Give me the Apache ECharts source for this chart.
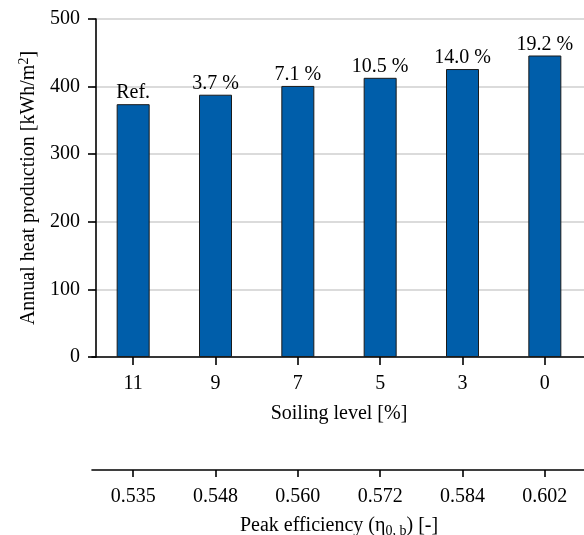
<!DOCTYPE html>
<html>
<head>
<meta charset="utf-8">
<script src="https://cdn.jsdelivr.net/npm/echarts@6/dist/echarts.min.js"></script>
<style>html,body{margin:0;padding:0;background:#fff;}#c{width:584px;height:535px;}</style>
</head>
<body>
<div id="c"></div>
<script>
var soilingLevels = ['11', '9', '7', '5', '3', '0'];
var peakEfficiency = ['0.535', '0.548', '0.560', '0.572', '0.584', '0.602'];
var heatProduction = [374, 388, 401, 413, 426, 446];
var barLabels = ['Ref.', '3.7 %', '7.1 %', '10.5 %', '14.0 %', '19.2 %'];
var yTicks = [0, 100, 200, 300, 400, 500];

var FONT = 'Liberation Serif';
var FS = 20;
var chart = echarts.init(document.getElementById('c'));
chart.setOption({
  animation: false,
  backgroundColor: '#fff',
  textStyle: { fontFamily: FONT },
  grid: { left: 92, right: -2, top: 19, bottom: 535 - 357, containLabel: false, outerBoundsMode: 'none' },
  xAxis: [{
    type: 'category',
    data: soilingLevels,
    position: 'bottom',
    boundaryGap: true,
    axisLine: { show: true, lineStyle: { color: '#000', width: 1.6 } },
    axisTick: { show: true, alignWithLabel: true, length: 8, lineStyle: { color: '#000', width: 1.6 } },
    axisLabel: { fontFamily: FONT, fontSize: FS, color: '#000', margin: 17 },
    name: 'Soiling level [%]',
    nameLocation: 'middle',
    nameGap: 47,
    nameTextStyle: { fontFamily: FONT, fontSize: FS, color: '#000' }
  }, {
    type: 'category',
    data: peakEfficiency,
    position: 'bottom',
    offset: 113,
    boundaryGap: true,
    axisLine: { show: true, lineStyle: { color: '#000', width: 1.6 } },
    axisTick: { show: true, alignWithLabel: true, length: 7, lineStyle: { color: '#000', width: 1.6 } },
    axisLabel: { fontFamily: FONT, fontSize: FS, color: '#000', margin: 17 },
    name: '{a|Peak efficiency (η}{s|0, b}{a|) [-]}',
    nameLocation: 'middle',
    nameGap: 44,
    nameTextStyle: {
      fontFamily: FONT, fontSize: FS, color: '#000',
      rich: {
        a: { fontFamily: FONT, fontSize: FS, color: '#000', lineHeight: 24, verticalAlign: 'middle' },
        s: { fontFamily: FONT, fontSize: 14, color: '#000', verticalAlign: 'bottom' }
      }
    }
  }],
  yAxis: {
    type: 'value',
    min: yTicks[0],
    max: yTicks[yTicks.length - 1],
    interval: 100,
    offset: -4,
    axisLine: { show: true, lineStyle: { color: '#000', width: 1.6 } },
    axisTick: { show: true, length: 8, lineStyle: { color: '#000', width: 1.6 } },
    axisLabel: { fontFamily: FONT, fontSize: FS, color: '#000', margin: 16 },
    splitLine: { show: true, lineStyle: { color: '#cfcfcf', width: 1.5 } },
    name: '{a|Annual heat production [kWh/m}{s|2}{a|]}',
    nameLocation: 'middle',
    nameGap: 52,
    nameTextStyle: {
      fontFamily: FONT, fontSize: FS, color: '#000',
      rich: {
        a: { fontFamily: FONT, fontSize: FS, color: '#000', lineHeight: 24, verticalAlign: 'middle' },
        s: { fontFamily: FONT, fontSize: 14, color: '#000', verticalAlign: 'top' }
      }
    }
  },
  series: [{
    type: 'bar',
    xAxisIndex: 0,
    data: heatProduction,
    barWidth: 33,
    itemStyle: { color: '#005eaa', borderColor: '#1a1a1a', borderWidth: 1 },
    label: {
      show: true,
      position: 'top',
      distance: 1,
      fontFamily: FONT,
      fontSize: FS,
      color: '#000',
      formatter: function (p) { return barLabels[p.dataIndex]; }
    }
  }]
});
</script>
</body>
</html>
